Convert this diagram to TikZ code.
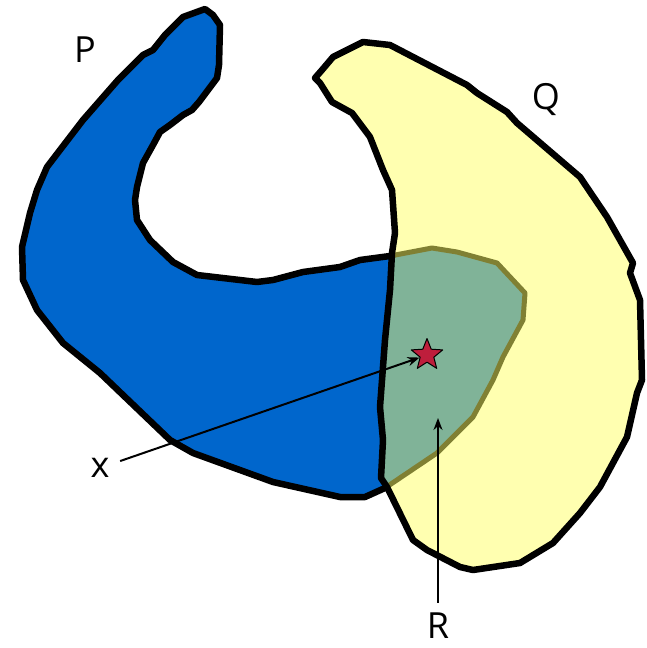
\documentclass[tikz,border=0pt]{standalone}
\usepackage{fontspec}
\setmainfont{Open Sans}
\usetikzlibrary{arrows.meta,shapes.geometric}
\definecolor{pblue}{RGB}{0,102,204}
\definecolor{qyellow}{RGB}{255,255,176}
\definecolor{rgreen}{RGB}{128,179,152}
\definecolor{rolive}{RGB}{128,128,51}
\definecolor{starred}{RGB}{190,30,60}
% outline of P (the hook)
\newcommand{\shapeP}{(183,17) -- (205,9) -- (213,15) -- (220,25) -- (219,65)
  -- (217,78) -- (208,90) -- (199,102) -- (192,110) -- (183,115) -- (170,125)
  -- (160,132) -- (153,145) -- (143,163) -- (137,187) -- (135,200) -- (137,220)
  -- (150,240) -- (173,262) -- (197,275) -- (257,282) -- (273,280) -- (303,272)
  -- (340,267) -- (360,260) -- (390,256) -- (432,248) -- (457,252) -- (497,263)
  -- (525,293) -- (523,320) -- (503,357) -- (493,380) -- (473,417) -- (437,453)
  -- (385,488) -- (365,497) -- (340,497) -- (273,482) -- (193,453) -- (170,440)
  -- (100,373) -- (63,343) -- (37,310) -- (23,280) -- (22,247) -- (30,213)
  -- (37,190) -- (47,167) -- (60,150) -- (83,120) -- (118,80) -- (143,55)
  -- (153,50) -- (165,35) -- cycle}
% outline of Q (the crescent)
\newcommand{\shapeQ}{(315,78) -- (322,70) -- (333,57) -- (363,42) -- (390,45)
  -- (467,85) -- (477,93) -- (507,112) -- (517,123) -- (580,177) -- (607,217)
  -- (633,263) -- (630,273) -- (640,300) -- (642,380) -- (637,393) -- (627,437)
  -- (600,487) -- (580,513) -- (553,543) -- (520,563) -- (473,570) -- (460,567)
  -- (427,550) -- (413,540) -- (387,487) -- (381,478) -- (383,440) -- (380,407)
  -- (385,340) -- (390,290) -- (392,253) -- (395,233) -- (392,190) -- (383,170)
  -- (370,137) -- (352,113) -- (332,102) -- (320,83) -- cycle}

\begin{document}
\begin{tikzpicture}[x=1pt, y=-1pt, line join=round,
  outline/.style={line width=6.5pt},
  lab/.style={font=\fontsize{36}{40}\selectfont, inner sep=2pt},
  starmark/.style={star, star points=5, star point ratio=2.3,
    minimum size=33pt, inner sep=0pt, fill=starred, draw=black, line width=1pt},
  pointer/.style={-{Stealth[length=12pt,width=9pt]}, line width=2pt}]
  \useasboundingbox (0,0) rectangle (646,648);

  \fill[pblue] \shapeP;
  \draw[outline] \shapeP;
  \fill[qyellow] \shapeQ;
  \begin{scope}
    \clip \shapeQ;
    \fill[rgreen] \shapeP;
    \draw[outline, rolive, line width=5pt] \shapeP;
  \end{scope}
  \draw[outline] \shapeQ;

  \node[lab] (labP) at (85,50) {P};
  \node[lab] (labQ) at (546,100) {Q};
  \node[lab] (labx) at (100,468) {x};
  \node[lab] (labR) at (438,626) {R};

  \node[starmark] (pt) at (427,355) {};
  \coordinate (rtip) at (438,418);
  \draw[pointer, shorten <=9pt] (labx) -- (pt);
  \draw[pointer, shorten <=8pt] (labR) -- (rtip);
\end{tikzpicture}
\end{document}
